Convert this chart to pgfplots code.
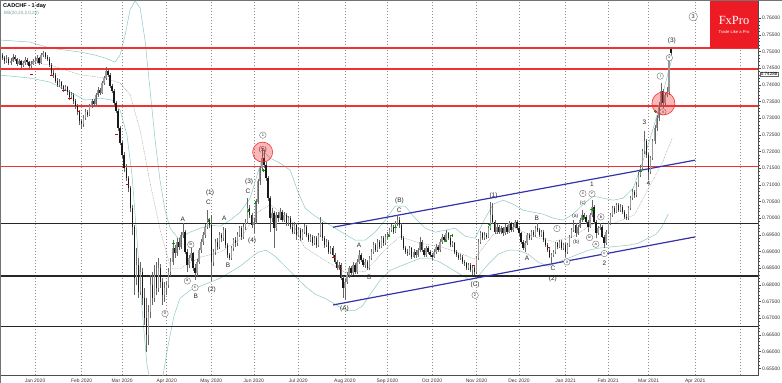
\documentclass[border=0pt]{standalone}
\usepackage{fontspec}
\setmainfont{Liberation Sans}
\newfontfamily\serifx{Liberation Serif}
\usepackage{pgfplots}
\usepackage{pgfplotstable}
\pgfplotsset{compat=1.18}

\definecolor{fxred}{RGB}{237,28,36}
\definecolor{hred}{RGB}{240,50,50}
\definecolor{chblue}{RGB}{50,50,170}
\definecolor{bbteal}{RGB}{140,200,200}

\tikzset{
  ew/.style={font=\fontsize{6.5}{7}\selectfont, text=black!85, inner sep=0pt},
  cw/.style={circle, draw=black!60, fill=white, line width=0.35bp, inner sep=0pt, minimum size=6.5bp, font=\fontsize{4}{4.5}\selectfont, text=black!85},
}

\pgfplotstableread{
i o h l c
-17 7492 7500 7478 7488
-16 7488 7495 7474 7480
-15 7480 7486 7462 7470
-14 7470 7488 7466 7478
-13 7478 7482 7458 7465
-12 7465 7480 7460 7472
-11 7472 7492 7468 7484
-10 7484 7490 7470 7476
-9 7476 7480 7455 7462
-8 7462 7478 7458 7470
-7 7470 7474 7450 7458
-6 7458 7472 7452 7466
-5 7466 7484 7460 7475
-4 7475 7480 7460 7468
-3 7468 7472 7448 7455
-2 7455 7470 7450 7463
-1 7463 7478 7458 7470
0 7470 7482 7462 7472
1 7472 7488 7466 7480
2 7480 7484 7458 7466
3 7466 7496 7462 7490
4 7490 7502 7484 7494
5 7494 7498 7476 7482
6 7482 7490 7470 7478
7 7478 7482 7454 7460
8 7460 7466 7430 7436
9 7436 7444 7420 7428
10 7428 7434 7404 7412
11 7412 7420 7392 7400
12 7400 7416 7394 7408
13 7408 7412 7388 7395
14 7395 7400 7378 7386
15 7386 7400 7380 7392
16 7392 7396 7370 7378
17 7378 7384 7354 7362
18 7362 7378 7356 7370
19 7370 7374 7342 7350
20 7350 7356 7328 7336
21 7336 7342 7310 7318
22 7318 7324 7280 7290
23 7290 7296 7266 7282
24 7282 7308 7274 7300
25 7300 7326 7294 7318
26 7318 7324 7302 7310
27 7310 7342 7306 7335
28 7335 7358 7330 7350
29 7350 7356 7336 7342
30 7342 7374 7338 7368
31 7368 7392 7362 7384
32 7384 7390 7370 7376
33 7376 7410 7372 7404
34 7404 7426 7398 7420
35 7420 7452 7414 7440
36 7440 7448 7424 7430
37 7430 7434 7390 7395
38 7395 7402 7374 7380
39 7380 7386 7338 7345
40 7345 7350 7316 7322
41 7322 7328 7262 7270
42 7270 7276 7218 7225
43 7225 7232 7182 7190
44 7190 7198 7140 7150
45 7150 7162 7110 7120
46 7120 7128 7080 7090
47 7090 7098 7020 7030
48 7030 7040 6950 6975
49 6975 6980 6770 6820
50 6820 6910 6800 6860
51 6860 6880 6760 6780
52 6780 6870 6770 6840
53 6840 6852 6740 6760
54 6760 6790 6680 6700
55 6700 6760 6600 6650
56 6650 6740 6620 6720
57 6720 6830 6700 6800
58 6800 6840 6740 6760
59 6760 6860 6750 6830
60 6830 6870 6770 6790
61 6790 6880 6780 6850
62 6850 6862 6790 6810
63 6810 6820 6740 6770
64 6770 6810 6750 6790
65 6790 6812 6770 6800
66 6800 6850 6790 6840
67 6840 6880 6828 6870
68 6870 6935 6860 6910
69 6910 6920 6880 6895
70 6895 6940 6888 6930
71 6930 6942 6905 6915
72 6915 6958 6908 6950
73 6950 6985 6942 6960
74 6960 6966 6892 6900
75 6900 6908 6840 6860
76 6860 6890 6850 6880
77 6880 6910 6872 6895
78 6895 6900 6842 6850
79 6850 6862 6815 6835
80 6835 6878 6828 6870
81 6870 6912 6862 6905
82 6905 6938 6896 6930
83 6930 6958 6920 6950
84 6950 6982 6942 6975
85 6975 7025 6968 6995
86 6995 7002 6972 6980
87 6980 7010 6812 6870
88 6870 6908 6858 6900
89 6900 6938 6890 6930
90 6930 6940 6905 6915
91 6915 6958 6908 6950
92 6950 6956 6930 6940
93 6940 6975 6932 6965
94 6965 6970 6912 6920
95 6920 6926 6882 6890
96 6890 6896 6875 6880
97 6880 6918 6874 6910
98 6910 6942 6902 6935
99 6935 6944 6915 6925
100 6925 6958 6918 6950
101 6950 6978 6944 6970
102 6970 6976 6936 6945
103 6945 6982 6938 6975
104 6975 6998 6966 6990
105 6990 7060 6984 7030
106 7030 7040 7000 7010
107 7010 7016 6972 6980
108 6980 7000 6955 6990
109 6990 7058 6984 7050
110 7050 7118 7044 7110
111 7110 7158 7100 7150
112 7150 7210 7140 7180
113 7180 7205 7150 7160
114 7160 7168 7112 7120
115 7120 7126 7052 7060
116 7060 7068 6960 7000
117 7000 7030 6990 7015
118 7015 7022 6910 6970
119 6970 7020 6962 7010
120 7010 7018 6990 7000
121 7000 7030 6994 7020
122 7020 7026 6988 6995
123 6995 7018 6988 7010
124 7010 7015 6978 6985
125 6985 7008 6978 7000
126 7000 7006 6968 6975
127 6975 6982 6952 6960
128 6960 6988 6954 6980
129 6980 6986 6935 6950
130 6950 6975 6944 6965
131 6965 6970 6932 6940
132 6940 6968 6934 6960
133 6960 6984 6954 6975
134 6975 6980 6944 6950
135 6950 6956 6928 6935
136 6935 6952 6930 6945
137 6945 6950 6918 6925
138 6925 6948 6920 6940
139 6940 6946 6912 6920
140 6920 6956 6914 6950
141 6950 7005 6944 6985
142 6985 6990 6932 6940
143 6940 6946 6912 6920
144 6920 6938 6914 6930
145 6930 6936 6894 6900
146 6900 6918 6894 6910
147 6910 6916 6884 6890
148 6890 6896 6864 6870
149 6870 6876 6844 6850
150 6850 6868 6844 6860
151 6860 6866 6814 6820
152 6820 6826 6760 6790
153 6790 6818 6755 6810
154 6810 6838 6802 6830
155 6830 6858 6822 6850
156 6850 6856 6828 6835
157 6835 6868 6830 6860
158 6860 6866 6834 6840
159 6840 6878 6834 6870
160 6870 6905 6864 6890
161 6890 6896 6868 6875
162 6875 6880 6854 6860
163 6860 6878 6852 6870
164 6870 6876 6845 6850
165 6850 6888 6846 6880
166 6880 6908 6874 6900
167 6900 6928 6894 6920
168 6920 6926 6898 6905
169 6905 6938 6900 6930
170 6930 6936 6908 6915
171 6915 6948 6910 6940
172 6940 6946 6918 6925
173 6925 6952 6920 6945
174 6945 6958 6938 6950
175 6950 6972 6944 6965
176 6965 6984 6958 6975
177 6975 6980 6952 6960
178 6960 6992 6955 6985
179 6985 7010 6978 6995
180 6995 7005 6972 6980
181 6980 6986 6934 6940
182 6940 6946 6904 6910
183 6910 6916 6892 6900
184 6900 6908 6886 6895
185 6895 6918 6890 6910
186 6910 6915 6878 6885
187 6885 6908 6880 6900
188 6900 6906 6882 6890
189 6890 6912 6884 6905
190 6905 6945 6900 6930
191 6930 6936 6898 6905
192 6905 6910 6884 6890
193 6890 6918 6884 6910
194 6910 6916 6892 6900
195 6900 6906 6884 6890
196 6890 6895 6876 6885
197 6885 6908 6880 6900
198 6900 6922 6894 6915
199 6915 6920 6898 6905
200 6905 6938 6900 6930
201 6930 6952 6924 6945
202 6945 6950 6928 6935
203 6935 6965 6930 6955
204 6955 6960 6934 6940
205 6940 6946 6914 6920
206 6920 6932 6914 6925
207 6925 6930 6894 6900
208 6900 6906 6884 6890
209 6890 6896 6874 6880
210 6880 6892 6874 6885
211 6885 6890 6864 6870
212 6870 6876 6858 6865
213 6865 6870 6844 6850
214 6850 6866 6844 6860
215 6860 6866 6838 6845
216 6845 6858 6830 6850
217 6850 6856 6830 6840
218 6840 6888 6834 6880
219 6880 6938 6874 6930
220 6930 6962 6924 6955
221 6955 6960 6934 6940
222 6940 6958 6934 6950
223 6950 6956 6938 6945
224 6945 6976 6940 6970
225 6970 7050 6964 7010
226 7010 7045 6982 6990
227 6990 6996 6954 6960
228 6960 6982 6954 6975
229 6975 6980 6954 6960
230 6960 6976 6954 6970
231 6970 6975 6948 6955
232 6955 6982 6950 6975
233 6975 6980 6954 6960
234 6960 6992 6955 6985
235 6985 6990 6958 6965
236 6965 6982 6960 6975
237 6975 6996 6970 6990
238 6990 6995 6964 6970
239 6970 6976 6948 6955
240 6955 6960 6924 6930
241 6930 6936 6904 6910
242 6910 6932 6900 6925
243 6925 6956 6920 6950
244 6950 6955 6934 6940
245 6940 6966 6935 6960
246 6960 6965 6944 6950
247 6950 6976 6945 6970
248 6970 6985 6958 6965
249 6965 6970 6944 6950
250 6950 6966 6944 6960
251 6960 6966 6930 6935
252 6935 6940 6914 6920
253 6920 6926 6900 6905
254 6905 6910 6880 6885
255 6885 6896 6865 6890
256 6890 6906 6884 6900
257 6900 6930 6894 6925
258 6925 6930 6908 6915
259 6915 6936 6910 6930
260 6930 6935 6904 6910
261 6910 6926 6904 6920
262 6920 6926 6885 6900
263 6900 6926 6894 6920
264 6920 6950 6914 6945
265 6945 6970 6940 6965
266 6965 6995 6958 6980
267 6980 6986 6945 6955
268 6955 6980 6950 6975
269 6975 7000 6970 6995
270 6995 7025 6990 7010
271 7010 7016 6998 7005
272 7005 7010 6984 6990
273 6990 6996 6960 6975
274 6975 7016 6970 7010
275 7010 7055 7004 7035
276 7035 7040 6984 6990
277 6990 6996 6940 6955
278 6955 6976 6950 6970
279 6970 6985 6964 6975
280 6975 6980 6940 6945
281 6945 6950 6910 6925
282 6925 6966 6920 6960
283 6960 6992 6954 6985
284 6985 7016 6980 7010
285 7010 7036 7004 7030
286 7030 7036 7014 7020
287 7020 7046 7016 7040
288 7040 7045 7018 7025
289 7025 7042 7020 7035
290 7035 7040 7014 7020
291 7020 7026 6998 7005
292 7005 7012 6994 7000
293 7000 7036 6996 7030
294 7030 7066 7024 7060
295 7060 7088 7054 7080
296 7080 7086 7062 7070
297 7070 7108 7064 7100
298 7100 7138 7094 7130
299 7130 7158 7124 7150
300 7150 7208 7144 7200
301 7200 7260 7194 7230
302 7230 7236 7182 7190
303 7190 7196 7115 7140
304 7140 7188 7132 7180
305 7180 7238 7174 7230
306 7230 7278 7222 7270
307 7270 7308 7262 7300
308 7300 7348 7292 7340
309 7340 7405 7334 7380
310 7380 7386 7330 7345
311 7345 7376 7338 7370
312 7370 7392 7362 7378
313 7378 7492 7370 7485
314 7508 7512 7490 7496
}\candles

\begin{document}
\begin{tikzpicture}
\useasboundingbox (0,-8bp) rectangle (782bp,375bp);
\begin{axis}[
  at={(0,0)}, anchor=south west,
  scale only axis, width=758bp, height=375bp,
  xmin=-17.3, xmax=357, ymin=6530, ymax=7654,
  axis line style={black!70, line width=0.4bp},
  xtick={0,23,43,65,87,108,130,153,174,196,218,239,262,283,303,326,348},
  xticklabels={Jan 2020,Feb 2020,Mar 2020,Apr 2020,May 2020,Jun 2020,Jul 2020,Aug 2020,Sep 2020,Oct 2020,Nov 2020,Dec 2020,Jan 2021,Feb 2021,Mar 2021,Apr 2021,{}},
  xmajorgrids,
  grid style={black!45, dash pattern=on 1.5bp off 1.5bp, line width=0.35bp},
  major x tick style={draw=none},
  ytick={6550,6600,...,7600},
  yticklabels={0.65500,0.66000,0.66500,0.67000,0.67500,0.68000,0.68500,0.69000,0.69500,0.70000,0.70500,0.71000,0.71500,0.72000,0.72500,0.73000,0.73500,0.74000,0.74500,0.75000,0.75500,0.76000},
  ytick pos=right, yticklabel pos=right,
  tick align=outside,
  minor y tick num=4,
  major tick length=3bp, minor tick length=1.5bp,
  tick style={black!70, line width=0.35bp},
  tick label style={font=\fontsize{5}{6}\selectfont, text=black!80},
  xticklabel style={inner sep=0.6bp},
  yticklabel style={inner sep=1bp},
]
% Bollinger bands
\addplot[draw=bbteal, line width=0.5bp] coordinates {
(-17.3,7534) (-2.5,7528) (7.4,7510) (22.2,7498) (29.6,7489) (34.6,7480) (39.5,7468) (42,7489) (44.5,7549) (46.9,7624) (49.4,7651) (51.9,7630) (54.3,7534) (56.8,7384) (59.3,7234) (61.7,7114) (64.2,7024) (66.7,6970) (70.6,6940) (76.6,6958) (81.5,6970) (86.4,6979) (91.4,6976) (96.3,6994) (101.3,7018) (106.2,7060) (110.1,7138) (113.1,7198) (116.1,7180) (121,7165) (126,7144) (129.9,7078) (133.4,7030) (138.3,7006) (143.2,6988) (148.2,6970) (153.1,6952) (158.1,6934) (163,6934) (167.9,6958) (172.9,6994) (177.8,7036) (182.8,7036) (187.7,7000) (192.6,6970) (197.6,6958) (202.5,6964) (207.5,6970) (212.4,6946) (217.3,6940) (222.3,7000) (226.2,7042) (231.2,7054) (236.1,7042) (241,7024) (246,7018) (250.9,7012) (255.9,7000) (260.8,6994) (265.7,7012) (270.7,7042) (275.6,7066) (280.6,7060) (285.5,7054) (290.4,7060) (295.4,7090) (300.3,7174) (303.8,7240) (306.7,7300) (309.7,7366) (312.7,7438) (314.6,7480)};
\addplot[draw=bbteal, line width=0.5bp] coordinates {
(-17.3,7429) (-2.5,7420) (7.4,7408) (17.3,7378) (24.7,7354) (32.1,7360) (38,7354) (42,7324) (45.4,7249) (47.9,7129) (50.4,6934) (52.9,6724) (55.3,6559) (57.8,6484) (60.8,6478) (63.2,6529) (65.7,6619) (68.7,6709) (71.6,6760) (76.6,6784) (81.5,6796) (86.4,6808) (91.4,6820) (96.3,6838) (101.3,6856) (106.2,6880) (110.1,6898) (114.1,6904) (118.5,6886) (123.5,6856) (128.4,6826) (133.4,6796) (138.3,6772) (143.2,6760) (148.2,6742) (153.1,6724) (158.1,6724) (161.5,6736) (165.5,6772) (170.4,6814) (175.4,6844) (180.3,6856) (185.2,6868) (190.2,6880) (195.1,6880) (200,6868) (205,6850) (209.9,6832) (214.9,6814) (218.8,6826) (223.8,6862) (228.7,6892) (233.6,6904) (238.6,6904) (243.5,6892) (248.5,6868) (253.4,6856) (258.3,6868) (263.3,6880) (268.2,6892) (273.2,6904) (278.1,6910) (283,6913) (288,6916) (292.9,6919) (297.9,6925) (302.8,6940) (306.7,6952) (309.7,6976) (312.7,7012)};
\addplot[draw=black!40, line width=0.4bp, dash pattern=on 0.8bp off 0.8bp] coordinates {
(-17.3,7481) (7.4,7459) (22.2,7430) (34.6,7420) (42,7405) (47,7370) (52,7260) (57,7100) (62,6960) (67,6850) (72,6850) (81.5,6883) (91.4,6898) (101.3,6937) (110,7018) (116,7040) (126,7000) (133,6913) (143,6874) (153,6838) (163,6840) (172,6900) (180,6945) (190,6925) (200,6915) (210,6895) (217,6877) (226,6950) (236,6973) (246,6945) (256,6930) (266,6946) (276,6985) (286,6985) (296,7010) (303,7090) (310,7170) (314.6,7240)};
% horizontal levels
\addplot[draw=hred, line width=1.3bp] coordinates {(-17.3,7510) (357,7510)};
\addplot[draw=hred, line width=1.3bp] coordinates {(-17.3,7447) (357,7447)};
\addplot[draw=hred, line width=1.3bp] coordinates {(-17.3,7336) (357,7336)};
\addplot[draw=hred, line width=1.3bp] coordinates {(-17.3,7155) (357,7155)};
\addplot[draw=black!85, line width=1.2bp] coordinates {(-17.3,6985) (357,6985)};
\addplot[draw=black!85, line width=1.2bp] coordinates {(-17.3,6827) (357,6827)};
\addplot[draw=black!85, line width=1.2bp] coordinates {(-17.3,6675) (357,6675)};
% channel
\addplot[draw=chblue, line width=1.2bp] coordinates {(147.2,6973) (326,7174)};
\addplot[draw=chblue, line width=1.2bp] coordinates {(147.2,6740) (326,6944)};
% candles: wicks
\addplot[draw=none, mark=none, forget plot, error bars/.cd, y dir=both, y explicit, error mark=none, error bar style={draw=black!60, line width=0.45bp}]
  table[x=i, y expr={(\thisrow{h}+\thisrow{l})/2}, y error expr={(\thisrow{h}-\thisrow{l})/2}] {\candles};
% up bodies
\addplot[draw=none, mark=none, forget plot, restrict expr to domain={\thisrow{c}-\thisrow{o}}{0:3000}, error bars/.cd, y dir=both, y explicit, error mark=none, error bar style={draw=black!40, line width=1.3bp}]
  table[x=i, y expr={(\thisrow{o}+\thisrow{c})/2}, y error expr={abs(\thisrow{c}-\thisrow{o})/2}] {\candles};
% down bodies
\addplot[draw=none, mark=none, forget plot, restrict expr to domain={\thisrow{o}-\thisrow{c}}{1:3000}, error bars/.cd, y dir=both, y explicit, error mark=none, error bar style={draw=black!90, line width=1.3bp}]
  table[x=i, y expr={(\thisrow{o}+\thisrow{c})/2}, y error expr={abs(\thisrow{c}-\thisrow{o})/2}] {\candles};
% signal markers
\addplot[only marks, mark=+, mark size=1.6bp, green!60!black, line width=0.6bp] coordinates {(68.2,6925) (85.6,6992) (105.4,7022) (108.7,7046) (112.8,7144) (174.5,6947) (177.8,6974) (202.5,6934) (205.8,6949) (224.3,6982) (270.8,6999) (275,7026) (298.8,7142) (306.3,7319)};
\addplot[only marks, mark=-, mark size=1.6bp, red!85!black, line width=0.7bp] coordinates {(-1.6,7432) (8.2,7427) (14.3,7382) (17.3,7359) (21.4,7319) (40.4,7252) (45.8,7102) (147.3,6884) (150.7,6849) (216.5,6859) (253.5,6914)};
% highlight circles
\addplot[only marks, mark=*, mark size=10bp, mark options={fill=hred, fill opacity=0.35, draw=hred, line width=0.6bp}] coordinates {(112.4,7198)};
\addplot[only marks, mark=*, mark size=11.5bp, mark options={fill=hred, fill opacity=0.35, draw=hred, line width=0.6bp}] coordinates {(310.3,7344)};
% wave labels
\node[ew] at (axis cs:73,6996) {A};
\node[ew] at (axis cs:86.4,7076) {(1)};
\node[ew] at (axis cs:85.6,7047) {C};
\node[ew] at (axis cs:93.4,6999) {A};
\node[ew] at (axis cs:105.7,7109) {(3)};
\node[ew] at (axis cs:105.2,7081) {C};
\node[cw] at (axis cs:112.5,7249) {1};
\node[ew] at (axis cs:112.5,7204) {(5)};
\node[cw] at (axis cs:76.9,6921) {b};
\node[cw] at (axis cs:75.2,6812) {a};
\node[cw] at (axis cs:79,6792) {c};
\node[ew] at (axis cs:79.4,6767) {B};
\node[ew] at (axis cs:87.3,6784) {(2)};
\node[ew] at (axis cs:95.3,6860) {B};
\node[ew] at (axis cs:107.2,6931) {(4)};
\node[cw] at (axis cs:64.2,6714) {0};
\node[ew] at (axis cs:180,7052) {(B)};
\node[ew] at (axis cs:179.8,7024) {C};
\node[ew] at (axis cs:160,6919) {A};
\node[ew] at (axis cs:165,6824) {B};
\node[ew] at (axis cs:152.8,6727) {(A)};
\node[ew] at (axis cs:226.4,7066) {(1)};
\node[ew] at (axis cs:247.8,6999) {B};
\node[ew] at (axis cs:242.9,6879) {A};
\node[ew] at (axis cs:255.7,6849) {C};
\node[ew] at (axis cs:217.3,6799) {(C)};
\node[cw] at (axis cs:217.3,6769) {2};
\node[ew] at (axis cs:255.7,6819) {(2)};
\node[cw] at (axis cs:257.7,6969) {i};
\node[cw] at (axis cs:262.6,6869) {ii};
\node[ew, font=\fontsize{5}{5.5}\selectfont] at (axis cs:266.7,7006) {(a)};
\node[ew, font=\fontsize{5}{5.5}\selectfont] at (axis cs:267.2,6929) {(b)};
\node[ew, font=\fontsize{5}{5.5}\selectfont] at (axis cs:270.5,7044) {(c)};
\node[cw, font=\fontsize{3.2}{4}\selectfont] at (axis cs:270.5,7074) {iii};
\node[cw] at (axis cs:273.8,6942) {iv};
\node[cw] at (axis cs:275,7073) {v};
\node[ew] at (axis cs:275,7101) {1};
\node[cw] at (axis cs:276.9,6922) {a};
\node[cw] at (axis cs:279.4,7004) {b};
\node[cw] at (axis cs:281.1,6894) {c};
\node[ew] at (axis cs:281.1,6864) {2};
\node[ew] at (axis cs:300.9,7289) {3};
\node[ew] at (axis cs:302.9,7104) {4};
\node[cw] at (axis cs:308.7,7426) {i};
\node[cw] at (axis cs:310,7319) {ii};
\node[cw, font=\fontsize{3.2}{4}\selectfont] at (axis cs:313.2,7481) {iii};
\node[ew] at (axis cs:314.5,7532) {(3)};
\node[cw, minimum size=8.5bp, font=\fontsize{5.5}{6}\selectfont] at (axis cs:325,7604) {3};
\end{axis}
% title
\node[anchor=north west, inner sep=0pt, font=\bfseries\fontsize{5.6}{6}\selectfont] at (3bp,372bp) {CADCHF - 1 day};
\node[anchor=north west, inner sep=0pt, text=bbteal!80!black, font=\fontsize{4.6}{5}\selectfont] at (4bp,364bp) {BB(20,20,2,0,20)};
% logo
\fill[fxred] (710bp,327bp) rectangle (758bp,375bp);
\node[text=white, inner sep=0pt, font=\serifx\fontsize{12.5}{13}\selectfont] at (734bp,355bp) {FxPro};
\node[text=white, inner sep=0pt, font=\fontsize{4.2}{5}\selectfont] at (734bp,343bp) {Trade Like a Pro};
% current price tag
\node[draw=black!60, fill=white, line width=0.3bp, inner sep=0.7bp, anchor=west, font=\fontsize{4.6}{5}\selectfont] at (760bp,301bp) {0.74288};
% frame
\draw[black!55, line width=0.4bp] (0.2bp,-7.8bp) rectangle (781.8bp,374.8bp);
\end{tikzpicture}
\end{document}
